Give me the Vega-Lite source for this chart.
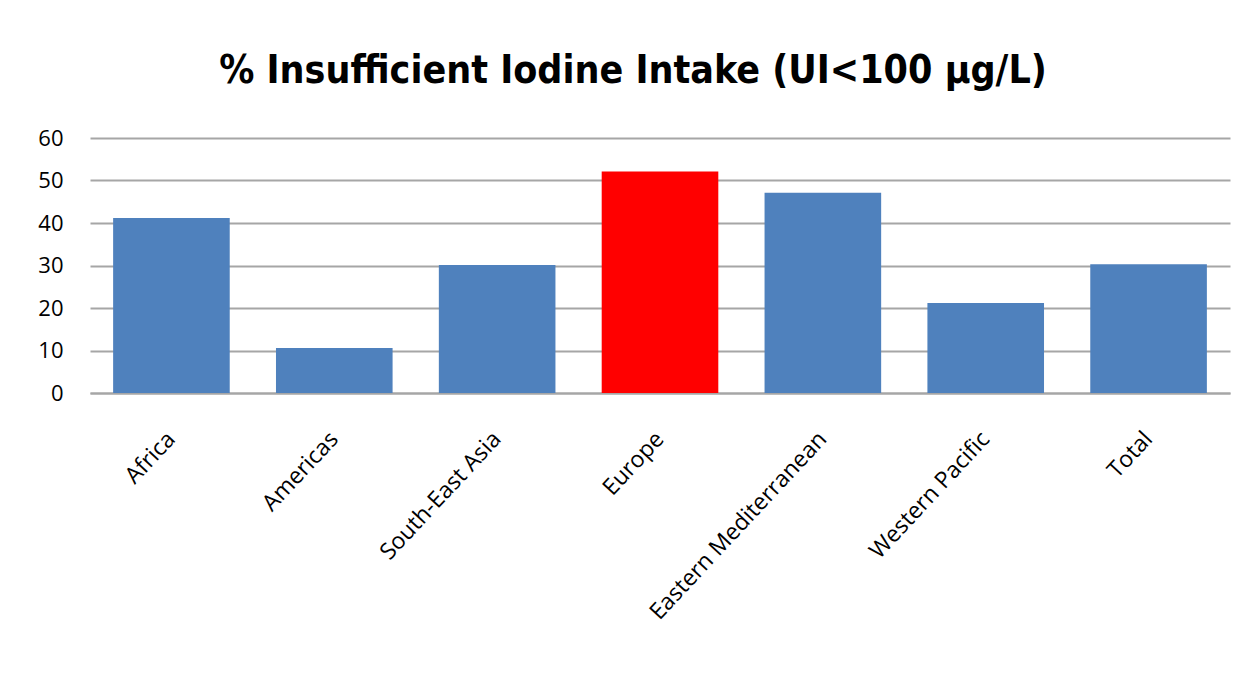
{
  "$schema": "https://vega.github.io/schema/vega-lite/v6.json",
  "autosize": "none",
  "width": 1140,
  "height": 255,
  "padding": {"left": 90, "top": 138, "right": 24, "bottom": 281},
  "background": "white",
  "title": {
    "text": "% Insufficient Iodine Intake (UI<100 µg/L)",
    "font": "DejaVu Sans Condensed",
    "fontSize": 39,
    "fontWeight": "bold",
    "color": "black",
    "anchor": "middle",
    "dx": -27,
    "offset": 36
  },
  "data": {
    "values": [
      {"region": "Africa", "value": 41.2},
      {"region": "Americas", "value": 10.6},
      {"region": "South-East Asia", "value": 30.1},
      {"region": "Europe", "value": 52.1},
      {"region": "Eastern Mediterranean", "value": 47.1},
      {"region": "Western Pacific", "value": 21.2},
      {"region": "Total", "value": 30.3}
    ]
  },
  "mark": {"type": "bar"},
  "encoding": {
    "x": {
      "field": "region",
      "type": "nominal",
      "sort": null,
      "scale": {"paddingInner": 0.284, "paddingOuter": 0.142},
      "axis": {
        "title": null,
        "labelAngle": -47,
        "labelAlign": "right",
        "labelBaseline": "middle",
        "labelFont": "Open Sans",
        "labelFontSize": 23,
        "labelColor": "black",
        "labelPadding": 42,
        "labelLimit": 500,
        "ticks": false,
        "domain": true,
        "domainColor": "#A6A6A6",
        "domainWidth": 2
      }
    },
    "y": {
      "field": "value",
      "type": "quantitative",
      "scale": {"domain": [0, 60], "nice": false},
      "axis": {
        "title": null,
        "values": [0, 10, 20, 30, 40, 50, 60],
        "labelFont": "Open Sans",
        "labelFontSize": 22,
        "labelColor": "black",
        "labelPadding": 27,
        "ticks": false,
        "domain": false,
        "grid": true,
        "gridColor": "#A6A6A6",
        "gridWidth": 2
      }
    },
    "color": {
      "condition": {"test": "datum.region === 'Europe'", "value": "#FF0000"},
      "value": "#4F81BD"
    }
  },
  "config": {"view": {"stroke": null}}
}
